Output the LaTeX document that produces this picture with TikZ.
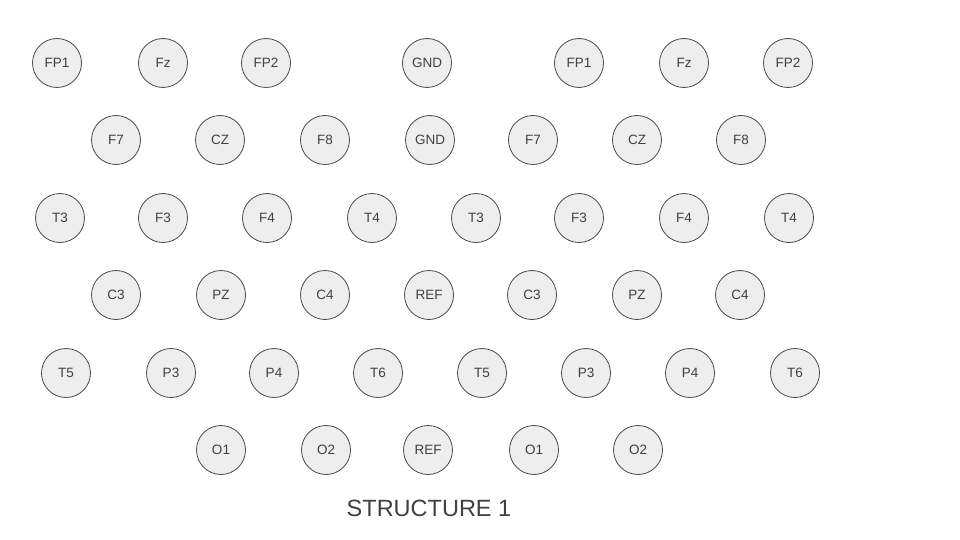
\documentclass[tikz,border=0pt]{standalone}
\usepackage{fontspec}
\setmainfont{Liberation Sans}
\definecolor{elecfill}{HTML}{EEEEEE}
\definecolor{elecline}{HTML}{4A4A4A}
\definecolor{electext}{HTML}{404040}

\begin{document}
\begin{tikzpicture}[x=1pt,y=-1pt]
	\useasboundingbox (0,0) rectangle (960,540);
	\begin{scope}[every node/.style={circle,draw=elecline,line width=0.8pt,fill=elecfill,minimum size=49pt,inner sep=0pt,text=electext,font=\fontsize{13.5}{16}\selectfont}]
	% row 1
	\node (FPaL) at (57,63) {FP1};
	\node (FzL) at (163,63) {Fz};
	\node (FPbL) at (266,63) {FP2};
	\node (GNDa) at (427,63) {GND};
	\node (FPaR) at (579,63) {FP1};
	\node (FzR) at (684,63) {Fz};
	\node (FPbR) at (788,63) {FP2};
	% row 2
	\node (FsL) at (116,140) {F7};
	\node (CZL) at (220,140) {CZ};
	\node (FeL) at (325,140) {F8};
	\node (GNDb) at (430,140) {GND};
	\node (FsR) at (533,140) {F7};
	\node (CZR) at (637,140) {CZ};
	\node (FeR) at (741,140) {F8};
	% row 3
	\node (TcL) at (60,218) {T3};
	\node (FcL) at (163,218) {F3};
	\node (FdL) at (267,218) {F4};
	\node (TdL) at (372,218) {T4};
	\node (TcR) at (476,218) {T3};
	\node (FcR) at (579,218) {F3};
	\node (FdR) at (684,218) {F4};
	\node (TdR) at (789,218) {T4};
	% row 4
	\node (CcL) at (116,295) {C3};
	\node (PZL) at (221,295) {PZ};
	\node (CdL) at (325,295) {C4};
	\node (REFa) at (429,295) {REF};
	\node (CcR) at (532,295) {C3};
	\node (PZR) at (637,295) {PZ};
	\node (CdR) at (740,295) {C4};
	% row 5
	\node (TeL) at (66,373) {T5};
	\node (PcL) at (171,373) {P3};
	\node (PdL) at (274,373) {P4};
	\node (TfL) at (378,373) {T6};
	\node (TeR) at (482,373) {T5};
	\node (PcR) at (586,373) {P3};
	\node (PdR) at (690,373) {P4};
	\node (TfR) at (795,373) {T6};
	% row 6
	\node (OaL) at (221,450) {O1};
	\node (ObL) at (326,450) {O2};
	\node (REFb) at (428,450) {REF};
	\node (OaR) at (534,450) {O1};
	\node (ObR) at (638,450) {O2};
	\end{scope}
	\node (title) at (429,508) [text=electext,font=\fontsize{23.5}{28}\selectfont] {STRUCTURE 1};
\end{tikzpicture}
\end{document}
